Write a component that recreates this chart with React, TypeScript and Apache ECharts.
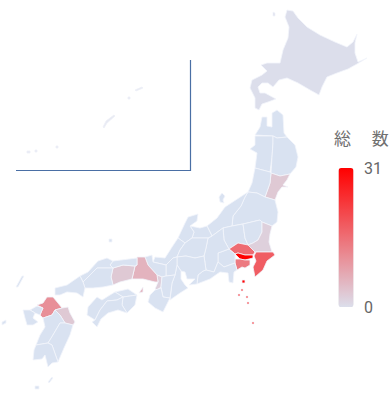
import React, { useEffect, useRef } from "react";
import * as echarts from "echarts";

// Prefecture tallies; prefectures that are left out keep the geo base colour.
const prefectureNames = ["東京都", "千葉県", "埼玉県", "神奈川県", "福岡県", "兵庫県", "岡山県", "宮城県", "大分県", "茨城県", "大阪府", "北海道"];
const prefectureCounts = [31, 18, 16, 14, 11, 6, 3, 3, 3, 2, 2, 0];

const legendMin = 0;
const legendMax = 31;
const legendTitle = "総　 数";

// Simplified outlines on a local map grid: x grows east, y grows south.
const outlines: Record<string, string[]> = {
  北海道: ["287,10 293,11 298,18 307,27 320,35 335,42 347,47 353,42 357,34 355,43 355,53 358,62 367,58 357,64 348,69 337,73 327,77 322,87 319,95 310,90 298,83 287,78 279,80 273,87 268,83 262,83 258,87 260,93 265,93 276,99 268,102 262,104 259,110 255,108 255,98 250,88 252,80 262,75 267,71 261,65 267,63 280,63 283,50 288,38 289,27 285,17", "273,12 275,13 275,16 273,16"],
  青森県: ["255,135 260,127 262,117 267,117 267,126 272,127 272,113 277,110 283,115 284,133 287,137 277,138 273,136"],
  秋田県: ["255,136 273,136 273,143 272,157 270,172 255,168 257,153 250,149 255,145"],
  岩手県: ["273,136 277,138 287,137 295,145 298,157 296,167 290,174 280,176 271,173 272,157 273,143"],
  宮城県: ["271,173 280,176 290,174 287,180 283,185 288,187 282,187 278,192 275,200 265,197 270,183"],
  山形県: ["255,168 270,172 271,173 270,183 265,197 257,193 248,192 252,183"],
  福島県: ["248,192 257,193 265,197 275,200 278,212 277,222 272,226 262,222 260,220 243,224 232,226 233,216 241,206 245,197"],
  新潟県: ["248,192 245,197 241,206 233,216 232,226 223,228 212,236 207,226 217,218 225,207", "222,193 225,196 223,200 224,203 220,202 219,197"],
  群馬県: ["223,228 232,226 243,224 245,238 248,245 238,243 229,249 224,240"],
  栃木県: ["243,224 260,220 262,222 262,232 258,240 253,243 248,245 245,238"],
  茨城県: ["262,222 272,226 270,234 269,242 272,252 257,252 255,252 248,245 253,243 258,240 262,232"],
  埼玉県: ["229,249 238,243 248,245 255,252 253,255 245,255 238,253 235,254"],
  千葉県: ["256,252 273,252 275,255 267,261 263,270 255,277 253,267 256,261 254,256"],
  東京都: ["235,254 238,253 245,255 253,255 253,258 245,260 240,259", "242,280 245,280 245,283 242,283", "241,289 243,289 243,291 241,291", "238,294 240,294 240,296 238,296", "246,296 248,296 248,298 246,298", "247,302 249,302 249,304 247,304", "252,322 254,322 254,324 252,324"],
  神奈川県: ["235,254 235,259 240,259 245,260 250,260 250,265 245,268 242,267 237,270 235,263"],
  山梨県: ["218,253 229,249 235,254 235,263 224,267 218,262"],
  長野県: ["212,236 223,228 224,240 229,249 218,253 218,262 214,272 206,270 204,256 206,248 208,238"],
  静岡県: ["206,270 214,272 218,262 224,267 235,263 237,270 234,272 233,283 229,282 228,273 220,272 210,279 197,284 198,275 203,271"],
  富山県: ["190,226 200,228 207,226 212,236 208,238 192,238 194,232"],
  石川県: ["198,214 188,217 185,223 178,238 185,243 192,238 194,232 190,226 197,221"],
  福井県: ["172,247 178,238 185,243 180,250 177,257 173,258 166,265 153,262 155,257 165,258"],
  岐阜県: ["185,243 192,238 208,238 206,248 204,256 195,258 186,256 177,257 180,250"],
  愛知県: ["186,256 195,258 204,256 206,270 203,271 198,275 197,284 189,285 195,279 187,279 185,272 181,271 177,265 177,257"],
  三重県: ["177,265 181,271 181,279 185,285 188,288 180,293 170,300 172,283 175,275"],
  滋賀県: ["166,265 173,258 177,257 177,265 175,275 166,276"],
  京都府: ["145,257 152,255 153,262 166,265 166,276 162,277 157,275 148,265"],
  大阪府: ["157,275 162,277 161,287 157,290 155,289 158,282"],
  奈良県: ["162,277 166,276 175,275 172,283 170,298 163,297 161,287"],
  和歌山県: ["155,290 161,288 163,297 170,298 163,312 155,308 148,302 150,295"],
  兵庫県: ["137,257 145,257 148,265 157,275 158,282 155,282 143,279 132,279 135,266 137,265", "143,287 139,293 143,292"],
  岡山県: ["113,268 123,265 135,266 132,279 120,282 113,285 111,277"],
  鳥取県: ["110,265 113,261 137,258 137,265 135,266 123,265 113,268"],
  島根県: ["80,276 88,272 98,261 107,258 113,261 110,265 113,268 107,268 97,268 90,275 83,282", "109,239 112,239 112,242 109,242"],
  広島県: ["83,282 90,275 97,268 113,268 111,277 113,285 103,287 93,288 85,288"],
  山口県: ["55,288 67,285 80,276 83,282 85,288 83,297 77,293 67,292 60,295 55,295"],
  香川県: ["115,292 128,289 137,295 123,297"],
  徳島県: ["123,297 137,295 135,305 127,313 122,305"],
  愛媛県: ["87,315 88,307 97,297 102,300 110,295 115,292 123,297 117,300 107,301 100,310 95,320"],
  高知県: ["97,327 92,322 95,320 100,310 107,301 117,300 123,297 122,305 127,313 118,310 108,313 101,319"],
  福岡県: ["37,305 43,303 47,297 53,297 58,303 62,308 55,310 52,315 43,318 40,315 43,308"],
  佐賀県: ["30,310 37,306 43,308 40,315 35,313"],
  長崎県: ["23,310 30,310 35,313 33,318 38,322 33,325 27,325 25,318", "22,276 24,276 18,287 16,287", "2,322 6,320 6,323 2,325"],
  大分県: ["62,308 68,307 70,313 75,322 73,325 65,323 60,315 55,310"],
  熊本県: ["43,318 52,315 55,310 60,315 65,323 60,323 53,335 48,343 36,345 40,335 45,327"],
  宮崎県: ["60,323 65,323 73,325 70,335 64,348 58,362 52,345 48,343 53,335"],
  鹿児島県: ["36,345 48,343 52,345 58,362 52,363 48,367 45,355 42,359 33,360 34,350", "52,377 53,378 49,383 48,382", "35,386 39,386 39,389 35,389"],
  沖縄県: ["135,90 142,87 143,88 136,91", "128,97 130,97 130,99 128,99", "103,127 106,121 114,115 115,116 107,123 104,128", "27,151 30,151 30,153 27,153", "35,150 37,150 37,152 35,152", "56,146 58,146 58,148 56,148"],
};

function buildGeoJson() {
  return {
    type: "FeatureCollection",
    features: Object.keys(outlines).map((name) => ({
      type: "Feature",
      properties: { name },
      geometry: {
        type: "MultiPolygon",
        coordinates: outlines[name].map((ring) => [
          ring.split(" ").map((pair) => {
            const [x, y] = pair.split(",").map(Number);
            return [x, -y];
          }),
        ]),
      },
    })),
  };
}

export default function App() {
  const ref = useRef<HTMLDivElement>(null);

  useEffect(() => {
    if (!ref.current) return;
    echarts.registerMap("japan", buildGeoJson() as any);
    const chart = echarts.init(ref.current, undefined, { renderer: "svg" });
    chart.setOption({
      animation: false,
      backgroundColor: "#ffffff",
      title: {
        text: legendTitle,
        left: 329,
        top: 124,
        textStyle: {
          color: "#707070",
          fontSize: 17,
          fontWeight: "normal",
          fontFamily: "'Noto Sans CJK JP', sans-serif",
        },
      },
      geo: {
        map: "japan",
        roam: false,
        silent: true,
        aspectScale: 1,
        boundingCoords: [[0, 0], [391, -399]],
        left: 0,
        top: 0,
        width: 391,
        height: 399,
        label: { show: false },
        itemStyle: { areaColor: "#d9e2f1", borderColor: "#f2f5fb", borderWidth: 0.8 },
        regions: [{ name: "沖縄県", itemStyle: { areaColor: "#e8eaf3", borderColor: "#eef0f7" } }],
      },
      visualMap: {
        type: "continuous",
        min: legendMin,
        max: legendMax,
        left: 322,
        top: 145,
        align: "left",
        itemWidth: 15,
        itemHeight: 139,
        calculable: true,
        realtime: false,
        handleStyle: { color: "transparent", borderColor: "transparent", borderWidth: 0, opacity: 0 },
        moveHandleStyle: { opacity: 0 },
        moveHandleSize: 0,
        indicatorStyle: { opacity: 0 },
        textStyle: { color: "#666666", fontSize: 16, fontFamily: "Roboto, sans-serif" },
        inRange: { color: ["#dcdeeb", "#ff0000"] },
      },
      series: [
        {
          type: "map",
          geoIndex: 0,
          silent: true,
          data: prefectureNames.map((name, i) => ({ name, value: prefectureCounts[i] })),
        },
      ],
      graphic: [
        {
          type: "polyline",
          silent: true,
          shape: { points: [[16, 170.5], [190.5, 170.5], [190.5, 60]] },
          style: { stroke: "#4a6fa5", lineWidth: 1.2, fill: "none" },
        },
      ],
    });
    return () => chart.dispose();
  }, []);

  return <div ref={ref} style={{ position: "fixed", left: 0, top: 0, width: 391, height: 399 }} />;
}
